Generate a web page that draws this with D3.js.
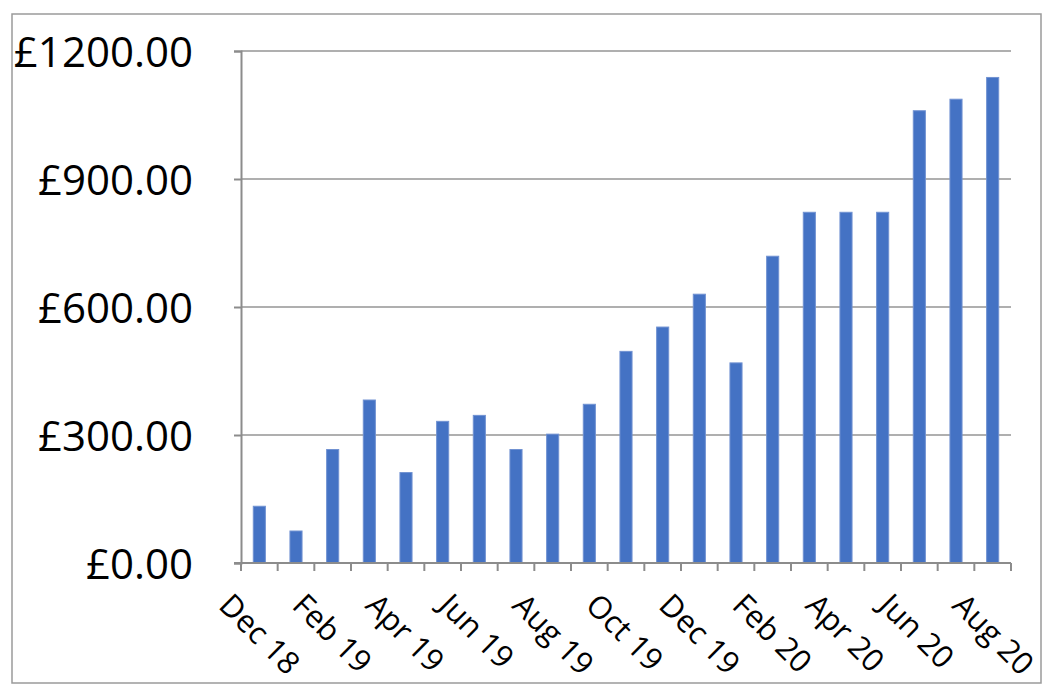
<!DOCTYPE html>
<html>
<head>
<meta charset="utf-8">
<script src="https://cdn.jsdelivr.net/npm/d3@7"></script>
<style>
  body { margin: 0; background: #fff; }
  text { font-family: "Open Sans", "Liberation Sans", sans-serif; fill: #000; }
</style>
</head>
<body>
<div id="grafica"></div>
<script>
// monthly values (Dec 18 - Aug 20)
let months = ["Dec 18", "Jan 19", "Feb 19", "Mar 19", "Apr 19", "May 19", "Jun 19",
  "Jul 19", "Aug 19", "Sep 19", "Oct 19", "Nov 19", "Dec 19", "Jan 20",
  "Feb 20", "Mar 20", "Apr 20", "May 20", "Jun 20", "Jul 20", "Aug 20"]
let amounts = [133, 75, 266, 382, 212, 332, 346, 266, 302, 372, 496, 553, 630, 469,
  719, 822, 822, 822, 1060, 1087, 1138]
let yTicks = [0, 300, 600, 900, 1200]
// only every second month gets a label
let labelled = months.filter((m, i) => i % 2 == 0)

let data = months.map((m, i) => ({ month: m, value: amounts[i] }))

function createGraph(data) {
  let width = 1052
  let height = 698
  let left = 241, right = 1011, top = 51, bottom = 563

  const svg = d3.select('#grafica')
    .append("svg")
    .attr("width", width)
    .attr("height", height)

  // outer frame
  svg.append("rect")
    .attr("x", 12).attr("y", 14)
    .attr("width", 1029).attr("height", 669)
    .attr("fill", "none")
    .attr("stroke", "#9a9a9a")
    .attr("stroke-width", 1.5)

  const xScale = d3.scaleBand()
    .domain(months)
    .range([left, right])
    .padding(0)

  const yScale = d3.scaleLinear()
    .domain([0, 1200])
    .range([bottom, top])

  // gridlines
  svg.append("g")
    .selectAll("line")
    .data(yTicks.filter(d => d > 0))
    .enter()
    .append("line")
    .attr("x1", left).attr("x2", right)
    .attr("y1", d => yScale(d)).attr("y2", d => yScale(d))
    .attr("stroke", "#959595")
    .attr("stroke-width", 1.5)

  // bars
  let barW = xScale.bandwidth() * 0.33
  svg.append("g")
    .selectAll("rect")
    .data(data)
    .enter()
    .append("rect")
    .attr("x", d => xScale(d.month) + (xScale.bandwidth() - barW) / 2)
    .attr("y", d => yScale(d.value))
    .attr("width", barW)
    .attr("height", d => yScale(0) - yScale(d.value))
    .attr("fill", "#4472c4")
    .attr("stroke", "#7192d2")
    .attr("stroke-width", 1)

  // y axis
  const yAxis = d3.axisLeft(yScale)
    .tickValues(yTicks)
    .tickSize(7)
    .tickPadding(41)
    .tickFormat(d => "£" + d.toFixed(2))

  const gy = svg.append("g")
    .attr("transform", "translate(" + left + ",0)")
    .call(yAxis)
  gy.select(".domain").attr("stroke", "#8c8c8c").attr("stroke-width", 2)
  gy.selectAll(".tick line").attr("stroke", "#8c8c8c").attr("stroke-width", 2)
  gy.selectAll(".tick text")
    .attr("font-size", 42)
    .attr("dy", "0.36em")
    .attr("font-family", "'Open Sans', sans-serif")

  // x axis: line and ticks at band edges
  let edges = months.map(m => xScale(m)).concat([right])
  svg.append("line")
    .attr("x1", left - 7).attr("x2", right)
    .attr("y1", bottom).attr("y2", bottom)
    .attr("stroke", "#8c8c8c")
    .attr("stroke-width", 2)

  svg.append("g")
    .selectAll("line")
    .data(edges)
    .enter()
    .append("line")
    .attr("x1", d => d).attr("x2", d => d)
    .attr("y1", bottom).attr("y2", bottom + 8)
    .attr("stroke", "#8c8c8c")
    .attr("stroke-width", 2)

  svg.append("g")
    .selectAll("text")
    .data(labelled)
    .enter()
    .append("text")
    .attr("transform", d => "translate(" + (xScale(d) + xScale.bandwidth() / 2 - 42) + "," + (bottom + 44) + ") rotate(45)")
    .attr("text-anchor", "start")
    .attr("font-size", 31)
    .text(d => d)
}

createGraph(data)
</script>
</body>
</html>
